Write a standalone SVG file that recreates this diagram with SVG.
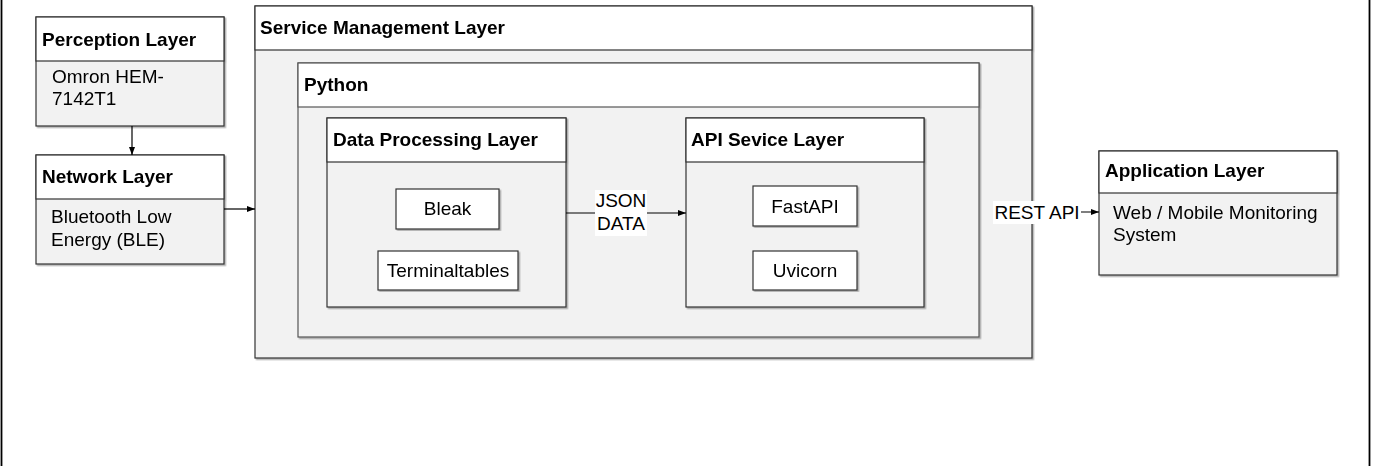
<svg xmlns="http://www.w3.org/2000/svg" width="1373" height="466" viewBox="0 0 1373 466">
  <style>
    text { font-family: "Liberation Sans", Arial, sans-serif; font-size: 19px; fill: #000; }
    .title { font-weight: bold; }
    .mid { text-anchor: middle; }
    .head { fill: #ffffff; stroke: #333333; stroke-width: 1.2; }
    .body { fill: #f2f2f2; stroke: #333333; stroke-width: 1.2; }
    .item { fill: #ffffff; stroke: #333333; stroke-width: 1.2; }
    .wire { fill: none; stroke: #000; stroke-width: 1.2; }
    .lbl { fill: #ffffff; stroke: none; }
  </style>
  <defs>
    <filter id="shadow" x="-5%" y="-5%" width="110%" height="110%">
      <feDropShadow dx="1.5" dy="1.5" stdDeviation="0.6" flood-color="#000" flood-opacity="0.3"/>
    </filter>
    <marker id="arrow" viewBox="0 0 8 8" refX="8" refY="4" markerWidth="8" markerHeight="8" markerUnits="userSpaceOnUse" orient="auto">
      <path d="M0,1 L8,4 L0,7 Z" fill="#000"/>
    </marker>
  </defs>

  <rect id="frame" x="1.5" y="-4" width="1368" height="476" fill="#ffffff" stroke="#000" stroke-width="1.8"/>

  <g id="perception" filter="url(#shadow)">
    <rect class="body" x="36" y="17" width="188" height="109"/>
    <rect class="head" x="36" y="17" width="188" height="44"/>
    <text class="title" x="42" y="46">Perception Layer</text>
    <text x="52" y="83">Omron HEM-</text>
    <text x="52" y="105">7142T1</text>
  </g>

  <g id="network" filter="url(#shadow)">
    <rect class="body" x="36" y="155" width="188" height="109"/>
    <rect class="head" x="36" y="155" width="188" height="44"/>
    <text class="title" x="42" y="183">Network Layer</text>
    <text x="51" y="223">Bluetooth Low</text>
    <text x="51" y="246">Energy (BLE)</text>
  </g>

  <g id="service" filter="url(#shadow)">
    <rect class="body" x="255" y="6" width="777" height="352"/>
    <rect class="head" x="255" y="6" width="777" height="44"/>
    <text class="title" x="260" y="34">Service Management Layer</text>
  </g>

  <g id="python" filter="url(#shadow)">
    <rect class="body" x="298" y="63" width="681" height="274" style="stroke:#555"/>
    <rect class="head" x="298" y="63" width="681" height="44" style="stroke:#555"/>
    <text class="title" x="304" y="91">Python</text>
  </g>

  <g id="data-processing" filter="url(#shadow)">
    <rect class="body" x="327" y="118" width="239" height="189"/>
    <rect class="head" x="327" y="118" width="239" height="44"/>
    <text class="title" x="333" y="146">Data Processing Layer</text>
  </g>

  <g id="bleak" filter="url(#shadow)">
    <rect class="item" x="396" y="189" width="103" height="40"/>
    <text class="mid" x="447.5" y="215">Bleak</text>
  </g>

  <g id="terminaltables" filter="url(#shadow)">
    <rect class="item" x="378" y="251" width="140" height="39"/>
    <text class="mid" x="448" y="277">Terminaltables</text>
  </g>

  <g id="api-service" filter="url(#shadow)">
    <rect class="body" x="686" y="118" width="238" height="189"/>
    <rect class="head" x="686" y="118" width="238" height="44"/>
    <text class="title" x="691" y="146">API Sevice Layer</text>
  </g>

  <g id="fastapi" filter="url(#shadow)">
    <rect class="item" x="753" y="186" width="104" height="40"/>
    <text class="mid" x="805" y="213">FastAPI</text>
  </g>

  <g id="uvicorn" filter="url(#shadow)">
    <rect class="item" x="753" y="251" width="104" height="39"/>
    <text class="mid" x="805" y="277">Uvicorn</text>
  </g>

  <g id="application" filter="url(#shadow)">
    <rect class="body" x="1099" y="151" width="238" height="124"/>
    <rect class="head" x="1099" y="151" width="238" height="42"/>
    <text class="title" x="1105" y="177">Application Layer</text>
    <text x="1113" y="219">Web / Mobile Monitoring</text>
    <text x="1113" y="241">System</text>
  </g>

  <g id="connectors">
    <path class="wire" d="M132,126 L132,155" marker-end="url(#arrow)"/>
    <path class="wire" d="M224,209 L255,209" marker-end="url(#arrow)"/>
    <path class="wire" d="M566,213 L686,213" marker-end="url(#arrow)"/>
    <rect class="lbl" x="595" y="190" width="52" height="46"/>
    <text class="mid" x="621" y="207">JSON</text>
    <text class="mid" x="621" y="230">DATA</text>
    <path class="wire" d="M1032,212 L1099,212" marker-end="url(#arrow)"/>
    <rect class="lbl" x="993" y="201" width="88" height="23"/>
    <text class="mid" x="1037" y="219">REST API</text>
  </g>
</svg>
